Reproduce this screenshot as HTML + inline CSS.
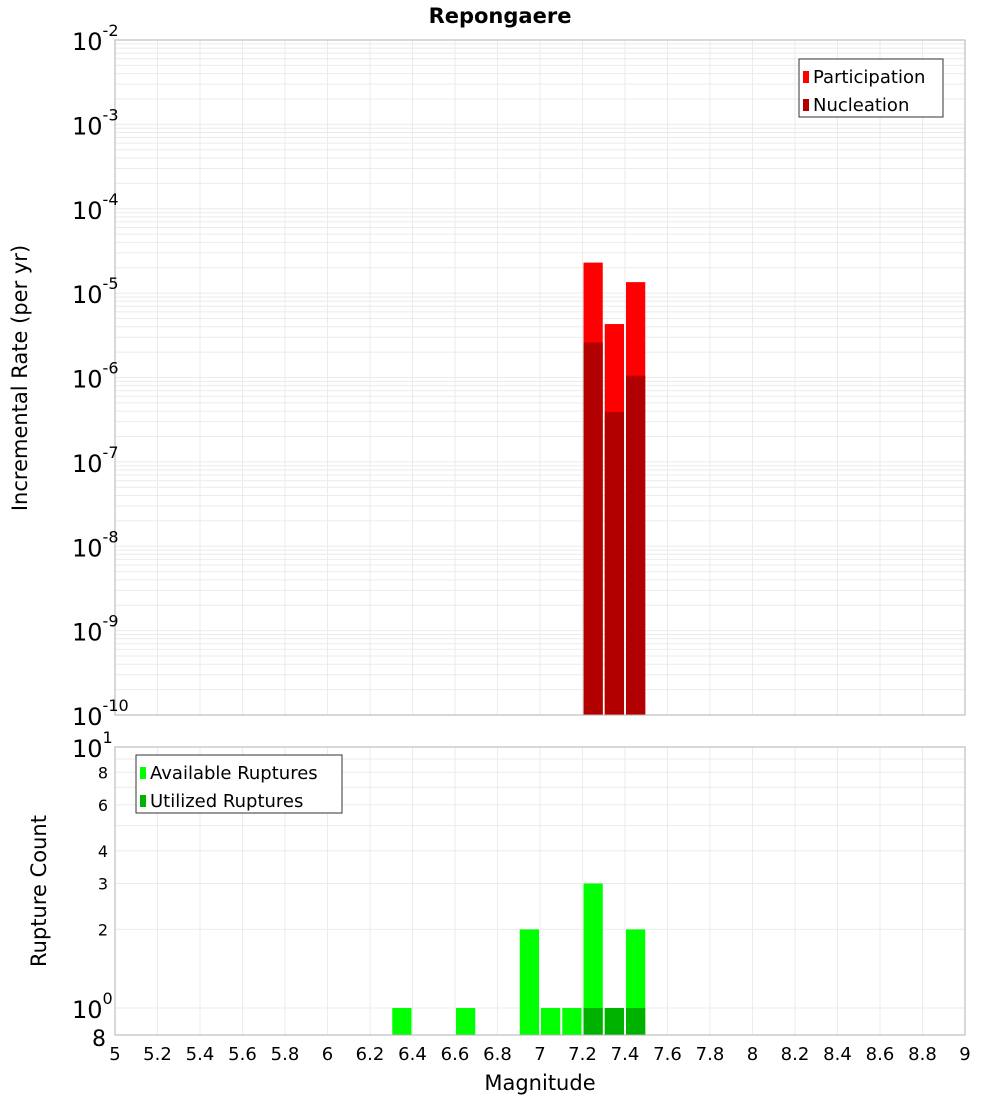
<!DOCTYPE html>
<html><head><meta charset="utf-8">
<style>
body{margin:0;background:#fff;}
svg{display:block;font-family:"Liberation Sans","DejaVu Sans",sans-serif;}
</style></head>
<body>
<svg id="chart" width="1000" height="1100" viewBox="0 0 1000 1100" xmlns="http://www.w3.org/2000/svg">
<text x="500" y="23" text-anchor="middle" font-size="21" font-weight="bold" font-family="DejaVu Sans, sans-serif">Repongaere</text>
<g id="topPlot"></g>
<g id="botPlot"></g>
<text x="540" y="1090" text-anchor="middle" font-size="21" font-family="DejaVu Sans, sans-serif">Magnitude</text>
<text transform="translate(27,378) rotate(-90)" text-anchor="middle" font-size="21" font-family="DejaVu Sans, sans-serif">Incremental Rate (per yr)</text>
<text transform="translate(46,891) rotate(-90)" text-anchor="middle" font-size="21" font-family="DejaVu Sans, sans-serif">Rupture Count</text>
</svg>
<script>
const binCenters=[6.35,6.65,6.95,7.05,7.15,7.25,7.35,7.45];
const availableCounts=[1,1,2,1,1,3,1,2];
const utilizedCounts=[0,0,0,0,0,1,1,1];
const rateBins=[7.25,7.35,7.45];
const participationRates=[2.3e-5,4.3e-6,1.35e-5];
const nucleationRates=[2.6e-6,3.9e-7,1.05e-6];
const xTicks=[5,5.2,5.4,5.6,5.8,6,6.2,6.4,6.6,6.8,7,7.2,7.4,7.6,7.8,8,8.2,8.4,8.6,8.8,9];
const topExps=[-2,-3,-4,-5,-6,-7,-8,-9,-10];
const botTicks=[1,2,3,4,6,8];

const NS="http://www.w3.org/2000/svg";
const L=115,R=965;
const x=m=>L+(m-5)/4*(R-L);
const T0=40,T1=715;
const yTop=v=>T0+(-2-Math.log10(v))*(T1-T0)/8;
const B0=747,B1=1035;
const yBot=v=>B0+(1-Math.log10(v))*261;
function el(p,tag,a,txt){const e=document.createElementNS(NS,tag);for(const k in a)e.setAttribute(k,a[k]);if(txt!==undefined)e.textContent=txt;p.appendChild(e);return e;}
const topG=document.getElementById('topPlot'),botG=document.getElementById('botPlot');

for(let e=-10;e<-2;e++)for(let k=1;k<10;k++){const yy=yTop(k*Math.pow(10,e));
 const g=el(topG,'line',{x1:L,x2:R,y1:yy,y2:yy,stroke:'#ebebeb','stroke-width':1});
 
 }
xTicks.forEach(t=>{[topG,botG].forEach((p,i)=>{const g=el(p,'line',{x1:x(t),x2:x(t),y1:i?B0:T0,y2:i?B1:T1,stroke:'#ebebeb'});
 
 });});
botTicks.concat([5,7,9]).forEach(t=>{const g=el(botG,'line',{x1:L,x2:R,y1:yBot(t),y2:yBot(t),stroke:'#ebebeb'});
 
 });

const bw=(R-L)/40;
rateBins.forEach((m,i)=>{
 const xl=x(m-0.05)+1;
 let b=el(topG,'rect',{x:xl,y:yTop(participationRates[i]),width:bw-2,height:T1-yTop(participationRates[i]),fill:'#ff0000'});
 
 
 b=el(topG,'rect',{x:xl,y:yTop(nucleationRates[i]),width:bw-2,height:T1-yTop(nucleationRates[i]),fill:'#b20000'});
 
 
});
binCenters.forEach((m,i)=>{
 const xl=x(m-0.05)+1;
 let b=el(botG,'rect',{x:xl,y:yBot(availableCounts[i]),width:bw-2,height:B1-yBot(availableCounts[i]),fill:'#00ff00'});
 
 
 if(utilizedCounts[i]>0){b=el(botG,'rect',{x:xl,y:yBot(utilizedCounts[i]),width:bw-2,height:B1-yBot(utilizedCounts[i]),fill:'#00b200'});
 
 }
});
let f=el(topG,'rect',{x:L,y:T0,width:R-L,height:T1-T0,fill:'none',stroke:'#b0b0b0'});


f=el(botG,'rect',{x:L,y:B0,width:R-L,height:B1-B0,fill:'none',stroke:'#b0b0b0'});



topExps.forEach(e=>{const yy=yTop(Math.pow(10,e));
 const t=el(topG,'text',{x:72,y:yy+10,'font-size':24,'font-family':'DejaVu Sans, sans-serif'});
 
 
 el(t,'tspan',{},'10');el(t,'tspan',{dy:-14,'font-size':16},String(e));});
let t=el(botG,'text',{x:72,y:yBot(10)+10,'font-size':24,'font-family':'DejaVu Sans, sans-serif'});


el(t,'tspan',{},'10');el(t,'tspan',{dy:-14,'font-size':16},'1');
t=el(botG,'text',{x:72,y:yBot(1)+10,'font-size':24,'font-family':'DejaVu Sans, sans-serif'});


el(t,'tspan',{},'10');el(t,'tspan',{dy:-14,'font-size':16},'0');
t=el(botG,'text',{x:106,y:1046,'font-size':22,'text-anchor':'end','font-family':'DejaVu Sans, sans-serif'},'8');


botTicks.slice(1).forEach(v=>{const tt=el(botG,'text',{x:108,y:yBot(v)+6,'font-size':16,'text-anchor':'end','font-family':'DejaVu Sans, sans-serif'},String(v));
 
 });
xTicks.forEach(v=>{const tt=el(botG,'text',{x:x(v),y:1060,'font-size':18,'text-anchor':'middle','font-family':'DejaVu Sans, sans-serif'},String(Math.round(v*10)/10));
 
 });

function legend(p,x0,y0,w,items,name){const g=el(p,'g',{});
 
 
 el(g,'rect',{x:x0,y:y0,width:w,height:58,fill:'#fff',stroke:'#333'});
 items.forEach((it,i)=>{el(g,'rect',{x:x0+4,y:y0+12+i*28,width:6,height:12,fill:it[1]});
  el(g,'text',{x:x0+14,y:y0+24+i*28,'font-size':18,'font-family':'DejaVu Sans, sans-serif'},it[0]);});}
legend(topG,799,59,144,[['Participation','#ff0000'],['Nucleation','#b20000']],'top-legend');
legend(botG,136,755,206,[['Available Ruptures','#00ff00'],['Utilized Ruptures','#00b200']],'bottom-legend');
</script>
</body></html>
